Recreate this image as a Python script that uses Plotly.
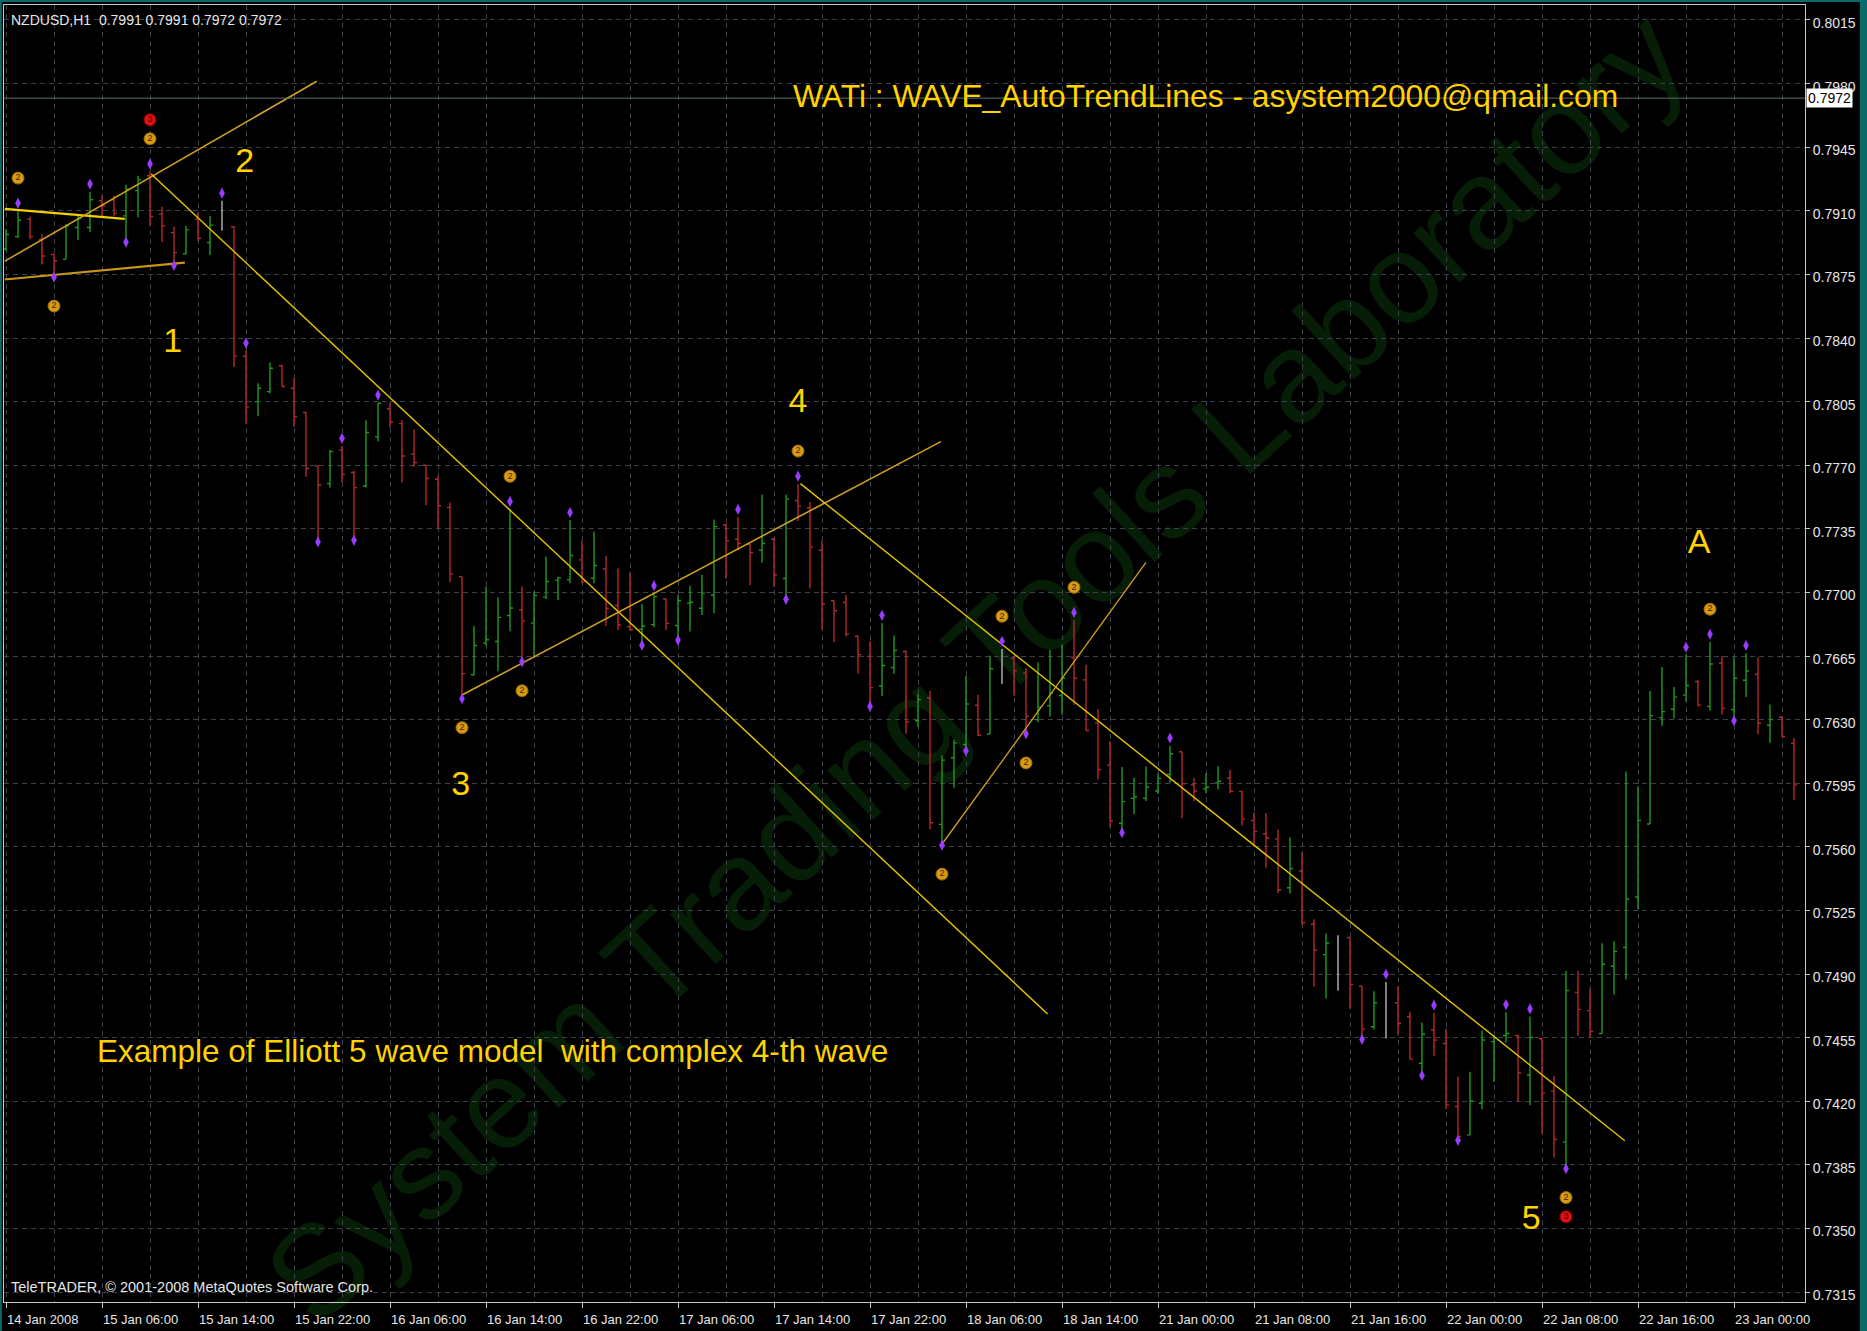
import plotly.graph_objects as go

# ---------------- data ----------------
opens = [0.78890, 0.78958, 0.79054, 0.78943, 0.78860, 0.78833, 0.79008, 0.79008, 0.79155, 0.79161,
         0.79072, 0.79211, 0.79293, 0.79082, 0.78980, 0.78864, 0.79054, 0.78925, 0.79008, 0.79012,
         0.78300, 0.78050, 0.78105, 0.78247, 0.78124, 0.77990, 0.77695, 0.77599, 0.77783, 0.77660,
         0.77586, 0.77856, 0.78011, 0.77929, 0.77761, 0.77700, 0.77623, 0.77468, 0.77087, 0.76547,
         0.76721, 0.76730, 0.76873, 0.76904, 0.76831, 0.76974, 0.77068, 0.77069, 0.77179, 0.77078,
         0.77129, 0.76928, 0.76812, 0.76797, 0.76823, 0.76964, 0.76818, 0.76941, 0.76913, 0.76986,
         0.77371, 0.77293, 0.77265, 0.77232, 0.77293, 0.77077, 0.77506, 0.77466, 0.77232, 0.76954,
         0.76945, 0.76759, 0.76648, 0.76485, 0.76586, 0.76675, 0.76294, 0.76419, 0.75724, 0.76090,
         0.76163, 0.76379, 0.76221, 0.76598, 0.76638, 0.76556, 0.76300, 0.76377, 0.76433, 0.76642,
         0.76519, 0.76282, 0.76050, 0.75730, 0.75867, 0.75867, 0.75907, 0.75998, 0.76123, 0.75940,
         0.75919, 0.75952, 0.75979, 0.75904, 0.75745, 0.75672, 0.75644, 0.75375, 0.75467, 0.75174,
         0.75007, 0.75080, 0.75101, 0.74833, 0.74610, 0.74751, 0.74742, 0.74665, 0.74409, 0.74592,
         0.74518, 0.74171, 0.74015, 0.74189, 0.74528, 0.74562, 0.74562, 0.74345, 0.74544, 0.74256,
         0.73975, 0.74799, 0.74699, 0.74573, 0.74943, 0.75047, 0.75324, 0.75726, 0.76311, 0.76357,
         0.76435, 0.76510, 0.76373, 0.76612, 0.76355, 0.76517, 0.76550, 0.76269, 0.76313, 0.76169]
highs = [0.79000, 0.79100, 0.79069, 0.78971, 0.78864, 0.79026, 0.79082, 0.79205, 0.79183, 0.79183,
         0.79244, 0.79293, 0.79316, 0.79122, 0.79012, 0.79017, 0.79091, 0.79072, 0.79155, 0.79017,
         0.78330, 0.78151, 0.78266, 0.78253, 0.78180, 0.77990, 0.77700, 0.77784, 0.77806, 0.77669,
         0.77947, 0.78044, 0.78044, 0.77947, 0.77898, 0.77700, 0.77641, 0.77495, 0.77087, 0.76814,
         0.77032, 0.76972, 0.77459, 0.77032, 0.77005, 0.77197, 0.77087, 0.77398, 0.77285, 0.77336,
         0.77200, 0.77132, 0.77110, 0.76936, 0.76995, 0.76968, 0.76986, 0.77037, 0.77097, 0.77402,
         0.77379, 0.77415, 0.77269, 0.77539, 0.77302, 0.77539, 0.77598, 0.77497, 0.77284, 0.76954,
         0.76986, 0.76763, 0.76732, 0.76832, 0.76763, 0.76680, 0.76441, 0.76459, 0.76103, 0.76190,
         0.76541, 0.76437, 0.76653, 0.76689, 0.76647, 0.76583, 0.76614, 0.76684, 0.76711, 0.76848,
         0.76602, 0.76358, 0.76181, 0.76040, 0.75980, 0.76044, 0.76002, 0.76157, 0.76123, 0.75980,
         0.76005, 0.76043, 0.76023, 0.75910, 0.75791, 0.75787, 0.75696, 0.75653, 0.75571, 0.75201,
         0.75123, 0.75113, 0.75101, 0.74833, 0.74806, 0.74857, 0.74835, 0.74692, 0.74634, 0.74687,
         0.74601, 0.74335, 0.74363, 0.74591, 0.74564, 0.74690, 0.74566, 0.74666, 0.74549, 0.74339,
         0.74917, 0.74917, 0.74821, 0.75070, 0.75081, 0.76014, 0.75934, 0.76457, 0.76590, 0.76479,
         0.76657, 0.76517, 0.76728, 0.76650, 0.76643, 0.76666, 0.76643, 0.76384, 0.76317, 0.76200]
lows = [0.78880, 0.78950, 0.78943, 0.78805, 0.78741, 0.78833, 0.78940, 0.78984, 0.79072, 0.79072,
        0.78934, 0.79063, 0.79017, 0.78929, 0.78805, 0.78861, 0.78934, 0.78857, 0.78990, 0.78240,
        0.77930, 0.77970, 0.78096, 0.78133, 0.77912, 0.77636, 0.77284, 0.77577, 0.77605, 0.77293,
        0.77577, 0.77830, 0.77907, 0.77605, 0.77691, 0.77480, 0.77352, 0.77056, 0.76421, 0.76543,
        0.76708, 0.76566, 0.76787, 0.76624, 0.76643, 0.76964, 0.76958, 0.77051, 0.77051, 0.77051,
        0.76815, 0.76794, 0.76790, 0.76716, 0.76808, 0.76794, 0.76744, 0.76785, 0.76876, 0.76885,
        0.77077, 0.77232, 0.77041, 0.77164, 0.77028, 0.76968, 0.77393, 0.77022, 0.76796, 0.76726,
        0.76757, 0.76553, 0.76379, 0.76430, 0.76553, 0.76222, 0.76260, 0.75697, 0.75615, 0.75925,
        0.76135, 0.76209, 0.76221, 0.76496, 0.76432, 0.76227, 0.76286, 0.76318, 0.76327, 0.76382,
        0.76240, 0.75971, 0.75706, 0.75684, 0.75779, 0.75852, 0.75892, 0.75953, 0.75757, 0.75852,
        0.75895, 0.75915, 0.75897, 0.75718, 0.75599, 0.75485, 0.75346, 0.75342, 0.75168, 0.74830,
        0.74766, 0.74808, 0.74709, 0.74546, 0.74595, 0.74546, 0.74568, 0.74430, 0.74348, 0.74449,
        0.74156, 0.73991, 0.74015, 0.74156, 0.74308, 0.74524, 0.74201, 0.74178, 0.74023, 0.73890,
        0.73835, 0.74562, 0.74549, 0.74571, 0.74788, 0.74870, 0.75258, 0.75726, 0.76267, 0.76306,
        0.76400, 0.76373, 0.76351, 0.76329, 0.76300, 0.76424, 0.76218, 0.76173, 0.76206, 0.75859]
closes = [0.78970, 0.79048, 0.78958, 0.78851, 0.78824, 0.79017, 0.79058, 0.79161, 0.79128, 0.79087,
          0.79220, 0.79271, 0.79069, 0.79017, 0.78870, 0.78995, 0.78949, 0.79021, 0.79008, 0.78302,
          0.78020, 0.78124, 0.78234, 0.78133, 0.77967, 0.77682, 0.77590, 0.77775, 0.77651, 0.77577,
          0.77880, 0.78041, 0.77938, 0.77751, 0.77715, 0.77627, 0.77477, 0.77102, 0.76553, 0.76708,
          0.76740, 0.76863, 0.76914, 0.76842, 0.76983, 0.77060, 0.77080, 0.77203, 0.77060, 0.77148,
          0.76912, 0.76821, 0.76795, 0.76815, 0.76977, 0.76830, 0.76955, 0.76946, 0.76996, 0.77362,
          0.77284, 0.77269, 0.77219, 0.77269, 0.77097, 0.77515, 0.77475, 0.77251, 0.76936, 0.76899,
          0.76772, 0.76657, 0.76476, 0.76598, 0.76681, 0.76288, 0.76410, 0.75733, 0.76077, 0.76172,
          0.76386, 0.76214, 0.76580, 0.76598, 0.76570, 0.76318, 0.76369, 0.76446, 0.76528, 0.76528,
          0.76240, 0.76026, 0.75742, 0.75849, 0.75876, 0.75929, 0.75977, 0.76112, 0.75947, 0.75907,
          0.75928, 0.75961, 0.75906, 0.75754, 0.75685, 0.75650, 0.75364, 0.75480, 0.75183, 0.75031,
          0.75071, 0.75080, 0.74843, 0.74597, 0.74742, 0.74751, 0.74628, 0.74432, 0.74570, 0.74537,
          0.74180, 0.74006, 0.74202, 0.74537, 0.74546, 0.74573, 0.74356, 0.74551, 0.74245, 0.73990,
          0.74810, 0.74706, 0.74584, 0.74954, 0.75025, 0.75313, 0.75746, 0.76322, 0.76344, 0.76424,
          0.76488, 0.76380, 0.76606, 0.76362, 0.76528, 0.76568, 0.76280, 0.76300, 0.76207, 0.75941]

time_labels = ["14 Jan 2008", "15 Jan 06:00", "15 Jan 14:00", "15 Jan 22:00", "16 Jan 06:00",
               "16 Jan 14:00", "16 Jan 22:00", "17 Jan 06:00", "17 Jan 14:00", "17 Jan 22:00",
               "18 Jan 06:00", "18 Jan 14:00", "21 Jan 00:00", "21 Jan 08:00", "21 Jan 16:00",
               "22 Jan 00:00", "22 Jan 08:00", "22 Jan 16:00", "23 Jan 00:00"]
price_ticks = [0.7315, 0.7350, 0.7385, 0.7420, 0.7455, 0.7490, 0.7525, 0.7560, 0.7595, 0.7630,
               0.7665, 0.7700, 0.7735, 0.7770, 0.7805, 0.7840, 0.7875, 0.7910, 0.7945, 0.7980, 0.8015]

fractal_up = [1, 7, 12, 18, 20, 28, 31, 42, 47, 54, 61, 66, 73, 83, 89, 97, 115, 119, 125, 127, 140, 142, 145]
fractal_down = [4, 10, 14, 26, 29, 38, 43, 53, 56, 65, 72, 78, 80, 85, 93, 113, 118, 121, 130, 144]
zz_up = [1, 12, 42, 66, 83, 89, 142]
zz_down = [4, 38, 43, 78, 85, 130]
major_up = [12]
major_down = [130]

# trend lines: (bar0, price0, bar1, price1)
tl_bar0 = [-0.1, -0.1, -0.1, 12.1, 38.0, 66.2, 78.1]
tl_price0 = [0.79111, 0.78722, 0.78823, 0.79303, 0.76436, 0.77599, 0.75624]
tl_bar1 = [9.9, 14.9, 25.9, 86.8, 77.9, 134.9, 95.0]
tl_price1 = [0.79056, 0.78815, 0.79813, 0.74680, 0.77830, 0.73983, 0.77165]

wave_text = ["1", "2", "3", "4", "5", "A"]
wave_bar = [13.9, 19.9, 37.9, 66.0, 127.1, 141.1]
wave_price = [0.78372, 0.79363, 0.75933, 0.78039, 0.73546, 0.77264]

current_price = 0.7972
header_quote = "NZDUSD,H1\u00a0 0.7991 0.7991 0.7972 0.7972"

# ---------------- styles ----------------
GREEN = "#1E9A1E"
RED = "#B82828"
DOJI = "#B4B4B4"
GRID = "#3C414B"
GRID_DASH = "5px,4px"
TXT = "#E6E6E6"
FONT = "Liberation Sans"

n = len(opens)
bars = list(range(n))
norm = [i for i in bars if opens[i] != closes[i]]
doji = [i for i in bars if opens[i] == closes[i]]

fig = go.Figure()

fig.add_trace(go.Ohlc(
    x=norm, open=[opens[i] for i in norm], high=[highs[i] for i in norm],
    low=[lows[i] for i in norm], close=[closes[i] for i in norm],
    increasing=dict(line=dict(color=GREEN, width=1.4)),
    decreasing=dict(line=dict(color=RED, width=1.4)),
    tickwidth=0.25, hoverinfo="skip", showlegend=False))

if doji:
    gap = min([b - a for a, b in zip(doji[:-1], doji[1:])] or [1])
    fig.add_trace(go.Ohlc(
        x=doji, open=[opens[i] for i in doji], high=[highs[i] for i in doji],
        low=[lows[i] for i in doji], close=[closes[i] for i in doji],
        increasing=dict(line=dict(color=DOJI, width=1.4)),
        decreasing=dict(line=dict(color=DOJI, width=1.4)),
        tickwidth=min(0.5, 0.25 / gap), hoverinfo="skip", showlegend=False))

# trend lines
tl_colors = ["#F2D000", "#C8961A", "#D0A020", "#E8C400", "#D0A020", "#E8C400", "#D0A020"]
tl_widths = [2.2, 2.2, 1.6, 1.4, 1.6, 1.4, 1.3]
for k in range(len(tl_bar0)):
    fig.add_trace(go.Scatter(x=[tl_bar0[k], tl_bar1[k]], y=[tl_price0[k], tl_price1[k]],
                             mode="lines", line=dict(color=tl_colors[k], width=tl_widths[k]),
                             hoverinfo="skip", showlegend=False))

# fractal dots
fig.add_trace(go.Scatter(
    x=fractal_up + fractal_down,
    y=[highs[i] + 0.00042 for i in fractal_up] + [lows[i] - 0.00006 for i in fractal_down],
    mode="markers", marker=dict(symbol="diamond-tall", size=8, color="#9A3CFF"),
    hoverinfo="skip", showlegend=False))

# zigzag markers
fig.add_trace(go.Scatter(
    x=zz_up + zz_down,
    y=[highs[i] + 0.0018 for i in zz_up] + [lows[i] - 0.00165 for i in zz_down],
    mode="markers+text", text=["2"] * (len(zz_up) + len(zz_down)), textposition="middle center",
    textfont=dict(family=FONT, size=9, color="#3A2500"),
    marker=dict(symbol="circle", size=12, color="#D89A12", line=dict(color="#9A6A00", width=1)),
    hoverinfo="skip", showlegend=False))
fig.add_trace(go.Scatter(
    x=major_up + major_down,
    y=[highs[i] + 0.00285 for i in major_up] + [lows[i] - 0.0027 for i in major_down],
    mode="markers+text", text=["3"] * (len(major_up) + len(major_down)), textposition="middle center",
    textfont=dict(family=FONT, size=9, color="#400000"),
    marker=dict(symbol="circle", size=12, color="#E01010", line=dict(color="#900000", width=1)),
    hoverinfo="skip", showlegend=False))

# wave labels
fig.add_trace(go.Scatter(
    x=wave_bar, y=wave_price, mode="text", text=wave_text, textposition="middle center",
    textfont=dict(family=FONT, size=34, color="#FFD200"), hoverinfo="skip", showlegend=False))

shapes = [
    # watermark carrier (label drawn beneath the bars and grid)
    dict(type="line", xref="paper", yref="paper", x0=0.5246, y0=0.487, x1=0.5446, y1=0.507,
         line=dict(width=0, color="rgba(0,0,0,0)"), layer="below",
         label=dict(text="System Trading Tools Laboratory", textangle=-42.5, textposition="middle",
                    yanchor="middle", xanchor="center",
                    font=dict(family=FONT, size=128, color="#061D06"))),
    # current price line
    dict(type="line", xref="paper", yref="y", x0=0, x1=1, y0=current_price, y1=current_price,
         line=dict(color="#5C6C6C", width=1), layer="above"),
    # teal window frame
    dict(type="rect", xref="paper", yref="paper", x0=1.0305, x1=1.04, y0=-0.05, y1=1.05,
         line=dict(width=0), fillcolor="#0A6A6A", layer="above"),
    dict(type="rect", xref="paper", yref="paper", x0=-0.01, x1=-0.0012, y0=-0.05, y1=1.05,
         line=dict(width=0), fillcolor="#0A6A6A", layer="above"),
    dict(type="rect", xref="paper", yref="paper", x0=-0.01, x1=1.04, y0=1.0023, y1=1.05,
         line=dict(width=0), fillcolor="#0A6A6A", layer="above"),
]

annotations = [
    dict(xref="paper", yref="paper", x=0.4368, y=0.9295, xanchor="left", yanchor="middle",
         text="WATi : WAVE_AutoTrendLines - asystem2000@qmail.com", showarrow=False,
         font=dict(family=FONT, size=31.8, color="#FFD200")),
    dict(xref="paper", yref="paper", x=0.0505, y=0.1932, xanchor="left", yanchor="middle",
         text="Example of Elliott 5 wave model \u00a0with complex 4-th wave", showarrow=False,
         font=dict(family=FONT, size=31.5, color="#FFD200")),
    dict(xref="paper", yref="paper", x=0.003, y=0.9884, xanchor="left", yanchor="middle",
         text=header_quote, showarrow=False, font=dict(family=FONT, size=14, color=TXT)),
    dict(xref="paper", yref="paper", x=0.003, y=0.0116, xanchor="left", yanchor="middle",
         text="TeleTRADER, © 2001-2008 MetaQuotes Software Corp.", showarrow=False,
         font=dict(family=FONT, size=14.5, color=TXT)),
    dict(xref="paper", yref="y", x=1.0008, y=current_price, xanchor="left", yanchor="middle",
         text="%.4f" % current_price, showarrow=False, bgcolor="#FFFFFF", borderpad=1,
         font=dict(family=FONT, size=14, color="#000000")),
]

label_bars = [8 * k for k in range(len(time_labels))]

fig.update_layout(
    width=1867, height=1331,
    margin=dict(l=4, r=62, t=5, b=29),
    paper_bgcolor="#000000", plot_bgcolor="#000000",
    showlegend=False,
    shapes=shapes, annotations=annotations,
    xaxis=dict(
        range=[-0.1667, 149.917], tickmode="array", tickvals=label_bars, ticktext=time_labels,
        ticks="outside", ticklen=5, tickcolor="#C8C8C8", ticklabelposition="outside right",
        ticklabelstandoff=5,
        tickfont=dict(family=FONT, size=13, color=TXT),
        showgrid=True, gridcolor=GRID, griddash=GRID_DASH, gridwidth=1,
        zeroline=False, showline=True, mirror=True, linecolor="#C8C8C8", linewidth=1,
        rangeslider=dict(visible=False),
        minor=dict(tickmode="array", tickvals=[4 * k for k in range(38)], showgrid=True,
                   gridcolor=GRID, griddash=GRID_DASH, gridwidth=1, ticks=""),
    ),
    yaxis=dict(
        side="right", range=[0.730955, 0.802325], tickmode="array", tickvals=price_ticks,
        ticktext=["%.4f" % p for p in price_ticks],
        ticks="outside", ticklen=4, tickcolor="#C8C8C8", ticklabelshift=3,
        tickfont=dict(family=FONT, size=14, color=TXT),
        showgrid=True, gridcolor=GRID, griddash=GRID_DASH, gridwidth=1,
        zeroline=False, showline=True, mirror=True, linecolor="#C8C8C8", linewidth=1,
    ),
)

fig.write_html("out.html", config={"displayModeBar": False},
               post_script="document.body.style.margin='0px';document.body.style.padding='0px';")
